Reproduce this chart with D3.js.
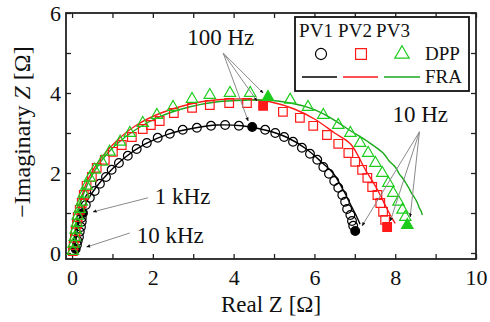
<!DOCTYPE html>
<html>
<head>
<meta charset="utf-8">
<script src="https://cdn.jsdelivr.net/npm/d3@7"></script>
<style>
  body { margin: 0; background: #fff; }
  svg { display: block; font-family: "Liberation Serif", "DejaVu Serif", serif; }
</style>
</head>
<body>
<div class="visHolder"></div>
<script>
const w = 490, h = 322;

// Nyquist data, [Real Z, -Imag Z] in ohm
const pv1Dpp = [
  [0.09,0.10],[0.12,0.20],[0.14,0.30],[0.17,0.40],[0.19,0.53],[0.22,0.65],[0.24,0.78],[0.24,0.88],
  [0.27,1.00],[0.34,1.20],[0.44,1.38],[0.56,1.55],[0.69,1.73],[0.84,1.90],[0.98,2.08],[1.16,2.25],
  [1.38,2.43],[1.60,2.60],[1.85,2.75],[2.12,2.88],[2.42,2.98],[2.74,3.08],[3.09,3.13],[3.44,3.18],
  [3.79,3.20],[4.13,3.18],[4.46,3.15],[4.78,3.08],[5.03,3.00],[5.25,2.90],[5.47,2.78],[5.69,2.63],
  [5.89,2.48],[6.07,2.33],[6.22,2.15],[6.36,1.98],[6.49,1.80],[6.59,1.63],[6.69,1.45],[6.76,1.28],
  [6.81,1.10],[6.89,0.95],[6.93,0.80],[6.96,0.68],[7.01,0.55]
];
const pv2Dpp = [
  [0.02,0.05],[0.04,0.20],[0.07,0.38],[0.09,0.55],[0.12,0.73],[0.14,0.90],[0.19,1.08],[0.24,1.25],
  [0.29,1.45],[0.36,1.68],[0.49,1.90],[0.61,2.13],[0.81,2.33],[1.01,2.53],[1.23,2.70],[1.48,2.90],
  [1.75,3.10],[1.95,3.20],[2.17,3.30],[2.52,3.50],[2.97,3.63],[3.41,3.70],[3.89,3.75],[4.33,3.75],
  [4.73,3.68],[5.22,3.53],[5.64,3.38],[5.97,3.18],[6.31,2.95],[6.59,2.73],[6.84,2.50],[7.01,2.28],
  [7.18,2.08],[7.31,1.88],[7.43,1.65],[7.56,1.45],[7.63,1.25],[7.70,1.03],[7.75,0.83],[7.80,0.65]
];
const pv3Dpp = [
  [0.02,0.05],[0.04,0.23],[0.07,0.40],[0.09,0.58],[0.12,0.75],[0.14,0.93],[0.19,1.10],[0.24,1.28],
  [0.29,1.48],[0.36,1.68],[0.44,1.88],[0.56,2.08],[0.74,2.28],[0.93,2.53],[1.19,2.78],[1.43,3.00],
  [1.75,3.25],[2.10,3.45],[2.50,3.65],[2.97,3.85],[3.41,3.95],[3.91,4.00],[4.41,4.00],[4.85,3.90],
  [5.40,3.83],[5.84,3.65],[6.22,3.45],[6.59,3.20],[6.89,3.00],[7.13,2.75],[7.33,2.50],[7.51,2.25],
  [7.68,2.00],[7.83,1.75],[7.95,1.50],[8.08,1.28],[8.18,1.08],[8.25,0.90],[8.30,0.70]
];
const pv1Fra = [
  [0.05,0.02],[0.08,0.20],[0.12,0.50],[0.17,0.80],[0.25,1.05],[0.40,1.35],[0.60,1.65],[0.90,2.00],
  [1.30,2.38],[1.80,2.72],[2.40,2.98],[3.00,3.12],[3.60,3.20],[4.20,3.18],[4.80,3.07],[5.30,2.90],
  [5.80,2.60],[6.20,2.25],[6.46,2.00],[6.70,1.60],[6.90,1.20],[7.05,0.90],[7.13,0.72]
];
const pv2Fra = [
  [0.03,0.02],[0.06,0.40],[0.12,0.90],[0.22,1.35],[0.40,1.85],[0.70,2.35],[1.10,2.80],[1.60,3.20],
  [2.20,3.50],[2.90,3.72],[3.60,3.83],[4.30,3.85],[4.90,3.78],[5.50,3.60],[6.00,3.35],[6.50,3.00],
  [6.90,2.72],[7.25,2.10],[7.55,1.60],[7.80,1.10],[7.95,0.82],[8.00,0.74]
];
const pv3Fra = [
  [0.04,0.02],[0.07,0.40],[0.13,0.90],[0.24,1.35],[0.42,1.80],[0.72,2.30],[1.10,2.72],[1.60,3.10],
  [2.20,3.42],[2.90,3.65],[3.60,3.78],[4.30,3.82],[4.90,3.82],[5.40,3.75],[5.90,3.62],[6.40,3.38],
  [6.90,3.05],[7.30,2.80],[7.70,2.50],[7.85,2.30],[8.00,2.15],[8.10,1.98],[8.20,1.85],[8.28,1.72],
  [8.34,1.62],[8.40,1.50],[8.47,1.40],[8.55,1.25],[8.60,1.12],[8.64,1.05],[8.67,0.95]
];
// indexes of the filled markers (10 kHz, 1 kHz, 100 Hz, 10 Hz)
const pv1Filled = [0, 8, 26, 44];
const pv2Filled = [24, 39];
const pv3Filled = [23, 38];

const xTicks = [0, 2, 4, 6, 8, 10];
const yTicks = [0, 2, 4, 6];
const seriesNames = ['PV1', 'PV2', 'PV3'];
const seriesColors = ['#000000', '#ff1a1a', '#1ccc1c'];
const lineColors = ['#000000', '#ff1a1a', '#1aa81a'];

// annotations: label, text anchor point, arrow start, arrow ends
const notes = [
  {label: '100 Hz', at: [3.68, 5.2], from: [3.74, 5.0], to: [[4.36, 3.3], [4.58, 3.8], [4.73, 4.0]], anchor: 'middle'},
  {label: '10 Hz', at: [8.62, 3.28], from: [8.60, 3.03], to: [[7.18, 0.68], [7.88, 0.80], [8.37, 0.90]], anchor: 'middle'},
  {label: '1 kHz', at: [2.05, 1.23], from: [1.88, 1.38], to: [[0.52, 1.03]], anchor: 'start'},
  {label: '10 kHz', at: [1.6, 0.25], from: [1.43, 0.50], to: [[0.36, 0.15]], anchor: 'start'}
];

const svg = d3.select('.visHolder')
  .append('svg')
  .attr('width', w)
  .attr('height', h);

const mLeft = 66, mRight = 476, mTop = 13, mBottom = 259;

const xScale = d3.scaleLinear().domain([-0.15, 10]).range([mLeft, mRight]);
const yScale = d3.scaleLinear().domain([-0.15, 6]).range([mBottom, mTop]);

const defs = svg.append('defs');
defs.append('marker')
  .attr('id', 'head')
  .attr('viewBox', '0 0 10 10')
  .attr('refX', 9).attr('refY', 5)
  .attr('markerWidth', 4).attr('markerHeight', 4)
  .attr('markerUnits', 'userSpaceOnUse')
  .attr('orient', 'auto')
  .append('path')
  .attr('d', 'M0,1L10,5L0,9Z')
  .attr('fill', '#111');

// axes, inward ticks on all four sides
const minor = d3.range(0, 11, 1);
const yMinor = d3.range(0, 7, 1);
const tickLen = 5;
svg.append('g').attr('transform', `translate(0,${mBottom})`)
  .call(d3.axisBottom(xScale).tickValues(minor).tickSize(-tickLen).tickFormat(d => xTicks.includes(d) ? d : ''))
  .call(g => g.selectAll('text').attr('dy', '0.71em').attr('y', 10));
svg.append('g').attr('transform', `translate(0,${mTop})`)
  .call(d3.axisTop(xScale).tickValues(minor).tickSize(-tickLen).tickFormat(''));
svg.append('g').attr('transform', `translate(${mLeft},0)`)
  .call(d3.axisLeft(yScale).tickValues(yMinor).tickSize(-tickLen).tickFormat(d => yTicks.includes(d) ? d : ''))
  .call(g => g.selectAll('text').attr('x', -5));
svg.append('g').attr('transform', `translate(${mRight},0)`)
  .call(d3.axisRight(yScale).tickValues(yMinor).tickSize(-tickLen).tickFormat(''));

svg.selectAll('.domain').remove();
svg.selectAll('.tick line').attr('stroke', '#222').attr('stroke-width', 1.3);
svg.selectAll('.tick text').attr('font-size', 22).attr('fill', '#111')
  .style('font-family', '"Liberation Serif", serif');

svg.append('rect')
  .attr('x', mLeft).attr('y', mTop)
  .attr('width', mRight - mLeft).attr('height', mBottom - mTop)
  .attr('fill', 'none').attr('stroke', '#222').attr('stroke-width', 1.8);

svg.append('text')
  .attr('x', (mLeft + mRight) / 2).attr('y', 312)
  .attr('text-anchor', 'middle').attr('font-size', 23).attr('fill', '#111')
  .text('Real Z [Ω]');

const yt = svg.append('text')
  .attr('transform', `translate(30,${(mTop + mBottom) / 2 - 4}) rotate(-90)`)
  .attr('text-anchor', 'middle').attr('font-size', 24).attr('fill', '#111');
yt.append('tspan').text('\u2212Imaginary ');
yt.append('tspan').attr('font-style', 'italic').text('Z');
yt.append('tspan').text(' [Ω]');

// FRA lines
const line = d3.line().x(d => xScale(d[0])).y(d => yScale(d[1])).curve(d3.curveCatmullRom);
[pv1Fra, pv2Fra, pv3Fra].forEach((s, i) => {
  svg.append('path')
    .datum(s)
    .attr('fill', 'none')
    .attr('stroke', lineColors[i])
    .attr('stroke-width', 1.4)
    .attr('d', line);
});

// DPP markers
const sym = [d3.symbolCircle, d3.symbolSquare, d3.symbolTriangle];
const symSize = [60, 74, 56];
const drawMarks = (data, i, filled) => {
  svg.append('g').selectAll('path')
    .data(data)
    .enter()
    .append('path')
    .attr('transform', d => `translate(${xScale(d[0])},${yScale(d[1])})`)
    .attr('d', d3.symbol().type(sym[i]).size(symSize[i]))
    .attr('fill', (d, k) => filled.includes(k) ? seriesColors[i] : 'none')
    .attr('stroke', seriesColors[i])
    .attr('stroke-width', 1.2);
};
drawMarks(pv1Dpp, 0, pv1Filled);
drawMarks(pv2Dpp, 1, pv2Filled);
drawMarks(pv3Dpp, 2, pv3Filled);

// annotations
notes.forEach(n => {
  n.to.forEach(t => {
    svg.append('line')
      .attr('x1', xScale(n.from[0])).attr('y1', yScale(n.from[1]))
      .attr('x2', xScale(t[0])).attr('y2', yScale(t[1]))
      .attr('stroke', '#8a8a8a').attr('stroke-width', 1)
      .attr('marker-end', 'url(#head)');
  });
  svg.append('text')
    .attr('x', xScale(n.at[0])).attr('y', yScale(n.at[1]))
    .attr('text-anchor', n.anchor)
    .attr('font-size', 23).attr('fill', '#111')
    .text(n.label);
});

// legend
const lg = svg.append('g');
lg.append('rect')
  .attr('x', 295).attr('y', 17).attr('width', 174).attr('height', 74)
  .attr('fill', '#fff').attr('stroke', '#111').attr('stroke-width', 1.8);
const colX = [316, 355, 393];
seriesNames.forEach((s, i) => {
  lg.append('text').attr('x', colX[i]).attr('y', 37)
    .attr('text-anchor', 'middle').attr('font-size', 19).attr('fill', '#111').text(s);
  lg.append('path')
    .attr('transform', `translate(${[321, 361, 402][i]},54)`)
    .attr('d', d3.symbol().type(sym[i]).size(symSize[i] * 1.6))
    .attr('fill', 'none').attr('stroke', seriesColors[i]).attr('stroke-width', 1.2);
  lg.append('line')
    .attr('x1', [302, 343, 384][i]).attr('x2', [337, 378, 420][i])
    .attr('y1', 77).attr('y2', 77)
    .attr('stroke', lineColors[i]).attr('stroke-width', 1.4);
});
lg.append('text').attr('x', 425).attr('y', 60).attr('font-size', 19).attr('fill', '#111').text('DPP');
lg.append('text').attr('x', 425).attr('y', 83).attr('font-size', 19).attr('fill', '#111').text('FRA');
</script>
</body>
</html>
